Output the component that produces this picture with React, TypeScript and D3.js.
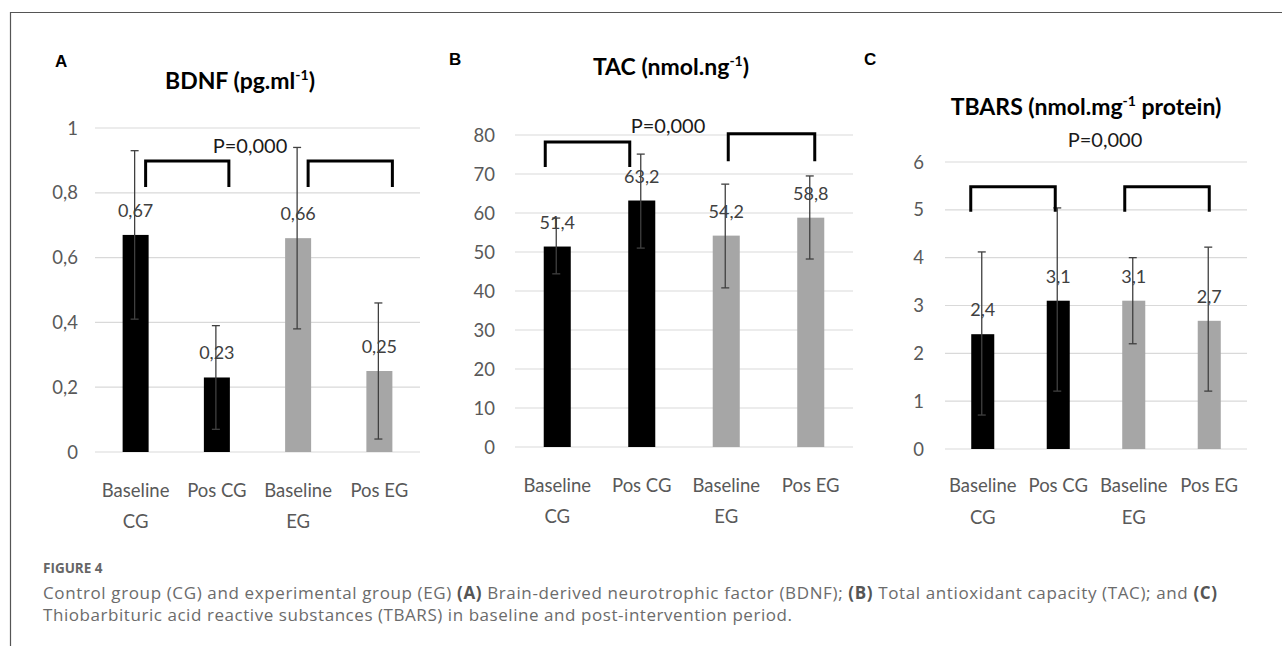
import React from "react";
import * as d3 from "d3";

// ---------- DATA ----------
const categoryLines: string[][] = [["Baseline", "CG"], ["Pos CG"], ["Baseline", "EG"], ["Pos EG"]];
const groupColor = ["cg", "cg", "eg", "eg"];

const bdnfMeans = [0.67, 0.23, 0.66, 0.25];
const bdnfUpper = [0.93, 0.39, 0.94, 0.46];
const bdnfLower = [0.41, 0.07, 0.38, 0.04];
const bdnfLabels = ["0,67", "0,23", "0,66", "0,25"];
const bdnfTicks = [0, 0.2, 0.4, 0.6, 0.8, 1];
const bdnfTickLabels = ["0", "0,2", "0,4", "0,6", "0,8", "1"];
// bracket: [fromIdx, toIdx, topValue, bottomValue]
const bdnfBrackets: number[][] = [[0, 1, 0.898, 0.818], [2, 3, 0.898, 0.818]];

const tacMeans = [51.4, 63.2, 54.2, 58.8];
const tacUpper = [58.7, 75.1, 67.4, 69.5];
const tacLower = [44.4, 51.0, 40.8, 48.2];
const tacLabels = ["51,4", "63,2", "54,2", "58,8"];
const tacTicks = [0, 10, 20, 30, 40, 50, 60, 70, 80];
const tacTickLabels = ["0", "10", "20", "30", "40", "50", "60", "70", "80"];
const tacBrackets: number[][] = [[0, 1, 78.2, 71.8], [2, 3, 80.3, 73.3]];

const tbarsMeans = [2.4, 3.1, 3.1, 2.68];
const tbarsUpper = [4.12, 5.04, 4.0, 4.22];
const tbarsLower = [0.71, 1.21, 2.2, 1.21];
const tbarsLabels = ["2,4", "3,1", "3,1", "2,7"];
const tbarsTicks = [0, 1, 2, 3, 4, 5, 6];
const tbarsTickLabels = ["0", "1", "2", "3", "4", "5", "6"];
const tbarsBrackets: number[][] = [[0, 1, 5.48, 4.96], [2, 3, 5.48, 4.96]];

const pText = "P=0,000";

// ---------- STYLE / LAYOUT ----------
const FONT = "Lato, 'Open Sans', sans-serif";
const COLORS: Record<string, string> = { cg: "#000000", eg: "#a6a6a6" };

interface PanelCfg {
  letter: string;
  letterX: number;
  letterY: number;
  title: string;
  titleSup: string;
  titleRest: string;
  titleX: number;
  titleY: number;
  pX: number;
  pY: number;
  x0: number;
  x1: number;
  yTopPx: number;
  y0Px: number;
  yMax: number;
  tickEnd: number;
  padding: number;
  labelY1: number;
  labelY2: number;
  bracketDx: number[][];
  means: number[];
  upper: number[];
  lower: number[];
  labels: string[];
  ticks: number[];
  tickLabels: string[];
  brackets: number[][];
}

const panels: PanelCfg[] = [
  {
    letter: "A", letterX: 55, letterY: 67,
    title: "BDNF (pg.ml", titleSup: "-1", titleRest: ")", titleX: 240, titleY: 89,
    pX: 250, pY: 153,
    x0: 95, x1: 420, yTopPx: 128, y0Px: 452, yMax: 1, tickEnd: 78, padding: 0.68,
    labelY1: 497, labelY2: 528,
    bracketDx: [[10, 12], [10, 13]],
    means: bdnfMeans, upper: bdnfUpper, lower: bdnfLower, labels: bdnfLabels,
    ticks: bdnfTicks, tickLabels: bdnfTickLabels, brackets: bdnfBrackets,
  },
  {
    letter: "B", letterX: 449, letterY: 65,
    title: "TAC (nmol.ng", titleSup: "-1", titleRest: ")", titleX: 671, titleY: 75,
    pX: 668, pY: 133,
    x0: 515, x1: 853, yTopPx: 135, y0Px: 447, yMax: 80, tickEnd: 495, padding: 0.68,
    labelY1: 492, labelY2: 523,
    bracketDx: [[-12, -12], [2, 4]],
    means: tacMeans, upper: tacUpper, lower: tacLower, labels: tacLabels,
    ticks: tacTicks, tickLabels: tacTickLabels, brackets: tacBrackets,
  },
  {
    letter: "C", letterX: 864, letterY: 65,
    title: "TBARS (nmol.mg", titleSup: "-1", titleRest: " protein)", titleX: 1086, titleY: 115,
    pX: 1105, pY: 147,
    x0: 945, x1: 1247, yTopPx: 162, y0Px: 449, yMax: 6, tickEnd: 924, padding: 0.695,
    labelY1: 492, labelY2: 524,
    bracketDx: [[-12, -3], [-9, 0]],
    means: tbarsMeans, upper: tbarsUpper, lower: tbarsLower, labels: tbarsLabels,
    ticks: tbarsTicks, tickLabels: tbarsTickLabels, brackets: tbarsBrackets,
  },
];

function Panel({ p }: { p: PanelCfg }) {
  const idx = p.means.map((_, i) => i);
  const x = d3
    .scaleBand<number>()
    .domain(idx)
    .range([p.x0, p.x1])
    .paddingInner(p.padding)
    .paddingOuter(p.padding / 2);
  const y = d3.scaleLinear().domain([0, p.yMax]).range([p.y0Px, p.yTopPx]);
  const bw = x.bandwidth();
  const cx = (i: number) => (x(i) as number) + bw / 2;
  const cap = 4;

  return (
    <g>
      <text x={p.letterX} y={p.letterY} fontFamily="'Liberation Sans', Arial, sans-serif" fontWeight="bold" fontSize={17} fill="#000">
        {p.letter}
      </text>
      <text x={p.titleX} y={p.titleY} textAnchor="middle" fontFamily={FONT} fontWeight="bold" fontSize={23} fill="#000">
        {p.title}
        <tspan fontSize={14} dy={-9}>{p.titleSup}</tspan>
        <tspan dy={9}>{p.titleRest}</tspan>
      </text>
      {/* gridlines */}
      {p.ticks.map((t, i) => (
        <g key={"t" + i}>
          <line x1={p.x0} x2={p.x1} y1={y(t)} y2={y(t)} stroke="#d9d9d9" strokeWidth={1.2} />
          <text x={p.tickEnd} y={y(t) + 6.5} textAnchor="end" fontFamily={FONT} fontSize={18.5} fill="#595959">
            {p.tickLabels[i]}
          </text>
        </g>
      ))}
      {/* bars */}
      {idx.map((i) => (
        <rect key={"b" + i} x={x(i)} y={y(p.means[i])} width={bw} height={y(0) - y(p.means[i])} fill={COLORS[groupColor[i]]} />
      ))}
      {/* error bars */}
      {idx.map((i) => {
        const ex = cx(i) - 1;
        return (
          <g key={"e" + i} stroke="#404040" strokeWidth={1.3}>
            <line x1={ex} x2={ex} y1={y(p.upper[i])} y2={y(p.lower[i])} />
            <line x1={ex - cap} x2={ex + cap} y1={y(p.upper[i])} y2={y(p.upper[i])} />
            <line x1={ex - cap} x2={ex + cap} y1={y(p.lower[i])} y2={y(p.lower[i])} />
          </g>
        );
      })}
      {/* value labels */}
      {idx.map((i) => (
        <text key={"v" + i} x={cx(i)} y={y(p.means[i]) - 18} textAnchor="middle" fontFamily={FONT} fontSize={18} fill="#404040">
          {p.labels[i]}
        </text>
      ))}
      {/* brackets */}
      {p.brackets.map((b, k) => {
        const xa = cx(b[0]) + p.bracketDx[k][0];
        const xb = cx(b[1]) + p.bracketDx[k][1];
        const yt = y(b[2]);
        const yb = y(b[3]);
        return (
          <path key={"k" + k} d={`M${xa},${yb}V${yt}H${xb}V${yb}`} fill="none" stroke="#000" strokeWidth={3} />
        );
      })}
      <text x={p.pX} y={p.pY} textAnchor="middle" fontFamily={FONT} fontSize={20} fill="#1a1a1a">
        {pText}
      </text>
      {/* category labels */}
      {idx.map((i) => (
        <text key={"c" + i} textAnchor="middle" fontFamily={FONT} fontSize={18.5} fill="#595959">
          {categoryLines[i].map((ln, j) => (
            <tspan key={j} x={cx(i)} y={j === 0 ? p.labelY1 : p.labelY2}>
              {ln}
            </tspan>
          ))}
        </text>
      ))}
    </g>
  );
}

export default function App() {
  const capFont = "'Open Sans', sans-serif";
  return (
    <svg width={1282} height={646} style={{ position: "absolute", left: 0, top: 0, background: "#fff" }}>
      <rect x={0} y={0} width={1282} height={646} fill="#fff" />
      <path d="M10.5,646V12.5H1282" fill="none" stroke="#555" strokeWidth={1.2} />
      {panels.map((p) => (
        <Panel key={p.letter} p={p} />
      ))}
      <text x={43} y={573} fontFamily={capFont} fontSize={13.5} fontWeight="bold" fill="#666">
        FIGURE 4
      </text>
      <text x={43} y={599} fontFamily={capFont} fontSize={17} fill="#6b6b6b" textLength={1174} lengthAdjust="spacing">
        Control group (CG) and experimental group (EG) <tspan fontWeight="bold" fill="#555">(A)</tspan> Brain-derived neurotrophic factor (BDNF); <tspan fontWeight="bold" fill="#555">(B)</tspan> Total antioxidant capacity (TAC); and <tspan fontWeight="bold" fill="#555">(C)</tspan>
      </text>
      <text x={43} y={621} fontFamily={capFont} fontSize={17} fill="#6b6b6b" textLength={749} lengthAdjust="spacing">
        Thiobarbituric acid reactive substances (TBARS) in baseline and post-intervention period.
      </text>
    </svg>
  );
}
